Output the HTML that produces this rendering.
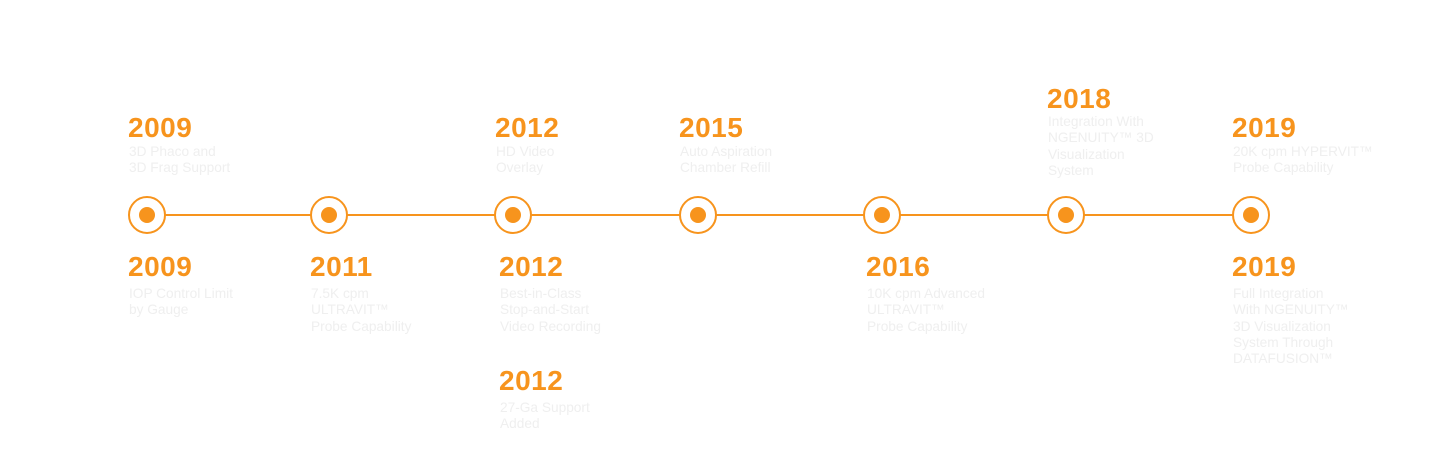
<!DOCTYPE html>
<html><head><meta charset="utf-8"><style>
body{margin:0;width:1440px;height:468px;background:#fff;position:relative;overflow:hidden;font-family:"Liberation Sans","DejaVu Sans",sans-serif}
.y{position:absolute;font-weight:bold;font-size:28px;line-height:32px;color:#f7941d;letter-spacing:0.5px}
.t{position:absolute;font-size:13.7px;line-height:16.3px;color:#efefef;white-space:nowrap}
.n{position:absolute;width:38px;height:38px;border:2px solid #f7941d;border-radius:50%;background:#fff;box-sizing:border-box}
.n::after{content:"";position:absolute;left:9px;top:9px;width:16px;height:16px;border-radius:50%;background:#f7941d}
.line{position:absolute;left:150px;top:214px;width:1100px;height:2px;background:#f7941d}
</style></head><body>
<div class="line"></div>
<div class="n" style="left:128px;top:196px"></div>
<div class="n" style="left:310px;top:196px"></div>
<div class="n" style="left:494px;top:196px"></div>
<div class="n" style="left:679px;top:196px"></div>
<div class="n" style="left:863px;top:196px"></div>
<div class="n" style="left:1047px;top:196px"></div>
<div class="n" style="left:1232px;top:196px"></div>

<div class="y" style="left:128px;top:112px">2009</div>
<div class="t" style="left:129px;top:144px">3D Phaco and<br>3D Frag Support</div>
<div class="y" style="left:495px;top:112px">2012</div>
<div class="t" style="left:496px;top:144px">HD Video<br>Overlay</div>
<div class="y" style="left:679px;top:112px">2015</div>
<div class="t" style="left:680px;top:144px">Auto Aspiration<br>Chamber Refill</div>
<div class="y" style="left:1047px;top:83px">2018</div>
<div class="t" style="left:1048px;top:114px">Integration With<br>NGENUITY™ 3D<br>Visualization<br>System</div>
<div class="y" style="left:1232px;top:112px">2019</div>
<div class="t" style="left:1233px;top:144px">20K cpm HYPERVIT™<br>Probe Capability</div>

<div class="y" style="left:128px;top:251px">2009</div>
<div class="t" style="left:129px;top:286px">IOP Control Limit<br>by Gauge</div>
<div class="y" style="left:310px;top:251px">2011</div>
<div class="t" style="left:311px;top:286px">7.5K cpm<br>ULTRAVIT™<br>Probe Capability</div>
<div class="y" style="left:499px;top:251px">2012</div>
<div class="t" style="left:500px;top:286px">Best-in-Class<br>Stop-and-Start<br>Video Recording</div>
<div class="y" style="left:499px;top:365px">2012</div>
<div class="t" style="left:500px;top:400px">27-Ga Support<br>Added</div>
<div class="y" style="left:866px;top:251px">2016</div>
<div class="t" style="left:867px;top:286px">10K cpm Advanced<br>ULTRAVIT™<br>Probe Capability</div>
<div class="y" style="left:1232px;top:251px">2019</div>
<div class="t" style="left:1233px;top:286px">Full Integration<br>With NGENUITY™<br>3D Visualization<br>System Through<br>DATAFUSION™</div>
</body></html>
